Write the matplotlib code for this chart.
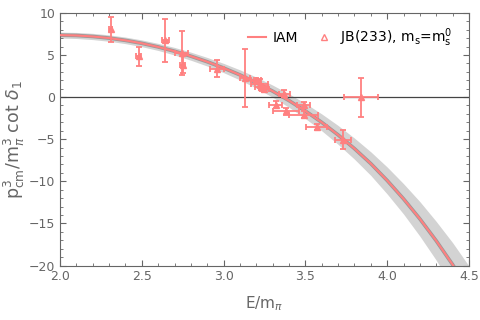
import numpy as np
import matplotlib.pyplot as plt
from matplotlib.ticker import MultipleLocator

# IAM curve (E/m_pi, value) and band half width
curve_x = [2.0, 2.1, 2.2, 2.3, 2.4, 2.5, 2.6, 2.7, 2.8, 2.9, 3.0, 3.1, 3.2,
           3.3, 3.4, 3.5, 3.6, 3.7, 3.8, 3.9, 4.0, 4.1, 4.2, 4.3, 4.4, 4.5]
curve_y = [7.35, 7.31, 7.19, 7.00, 6.73, 6.38, 5.95, 5.44, 4.85, 4.19, 3.45,
           2.63, 1.71, 0.70, -0.42, -1.65, -3.00, -4.49, -6.12, -7.90, -9.90,
           -12.08, -14.46, -17.06, -19.88, -22.95]
band_w = [0.35, 0.36, 0.37, 0.38, 0.39, 0.40, 0.42, 0.45, 0.48, 0.51, 0.55,
          0.60, 0.66, 0.72, 0.80, 0.90, 1.00, 1.12, 1.25, 1.40, 1.60,
          1.80, 2.05, 2.30, 2.60, 2.90]

# lattice points JB(233)
pts_x = [2.31, 2.48, 2.644, 2.744, 2.75, 2.96, 3.13, 3.20, 3.22, 3.23, 3.25,
         3.32, 3.371, 3.38, 3.49, 3.49, 3.57, 3.73, 3.84]
pts_y = [8.06, 4.82, 6.72, 5.22, 3.83, 3.36, 2.25, 2.0, 1.6, 1.2, 0.95,
         -0.9, 0.4, -1.7, -0.95, -2.1, -3.56, -5.06, -0.04]
pts_xerr = [0.01, 0.015, 0.02, 0.04, 0.015, 0.045, 0.03, 0.03, 0.05, 0.04, 0.03,
            0.04, 0.035, 0.08, 0.04, 0.09, 0.065, 0.047, 0.106]
pts_yerr = [1.5, 1.15, 2.6, 2.6, 1.0, 1.0, 3.4, 0.3, 0.5, 0.4, 0.4,
            0.4, 0.4, 0.4, 0.4, 0.4, 0.4, 1.15, 2.35]

red = '#ff8080'
grey = '#666666'

fig = plt.figure(figsize=(4.8, 3.2), dpi=100)
ax = fig.add_axes([0.125, 0.170, 0.852, 0.790])

cx = np.array(curve_x)
cy = np.array(curve_y)
bw = np.array(band_w)
ax.fill_between(cx, cy - bw, cy + bw, color='#d3d3d3', lw=0, zorder=1)
ax.plot(cx, cy, color='#999999', lw=2.6, zorder=2)
ax.plot(cx, cy, color=red, lw=1.5, zorder=3, label='IAM')
ax.axhline(0, color='#444444', lw=0.9, zorder=2)

ax.errorbar(pts_x, pts_y, xerr=pts_xerr, yerr=pts_yerr, fmt='none',
            ecolor=red, elinewidth=1.3, capsize=2, capthick=1.3, zorder=4)
ax.plot(pts_x, pts_y, ls='none', marker='^', ms=5, mfc=red, mec=red, zorder=5)
ax.plot([], [], ls='none', marker='^', ms=4, mfc='white', mec=red, mew=1,
        label=r'JB(233), m$_\mathregular{s}$=m$_\mathregular{s}^\mathregular{0}$')

ax.set_xlim(2.0, 4.5)
ax.set_ylim(-20, 10)
ax.xaxis.set_major_locator(MultipleLocator(0.5))
ax.xaxis.set_minor_locator(MultipleLocator(0.1))
ax.yaxis.set_major_locator(MultipleLocator(5))
ax.yaxis.set_minor_locator(MultipleLocator(1))
ax.xaxis.set_major_formatter(plt.FuncFormatter(lambda v, p: f'{v:.1f}'))
ax.yaxis.set_major_formatter(plt.FuncFormatter(
    lambda v, p: f'{int(v)}'.replace('-', '\u2212')))
ax.tick_params(which='both', direction='in', top=True, right=True,
               color=grey, labelcolor=grey, labelsize=9)
ax.tick_params(which='major', length=4)
ax.tick_params(which='minor', length=2)
for s in ax.spines.values():
    s.set_color(grey)

ax.set_xlabel(r'E/m$_\pi$', color=grey, fontsize=11, labelpad=8)
ax.set_ylabel(r'p$_\mathregular{cm}^\mathregular{3}$/m$_\pi^\mathregular{3}$ cot $\delta_\mathregular{1}$',
              color=grey, fontsize=12.5, labelpad=1)

ax.legend(loc='upper right', bbox_to_anchor=(0.99, 0.995), ncol=2, frameon=False,
          fontsize=10, handlelength=1.3, columnspacing=1.2, handletextpad=0.5)

fig.savefig('out.png', dpi=100)
